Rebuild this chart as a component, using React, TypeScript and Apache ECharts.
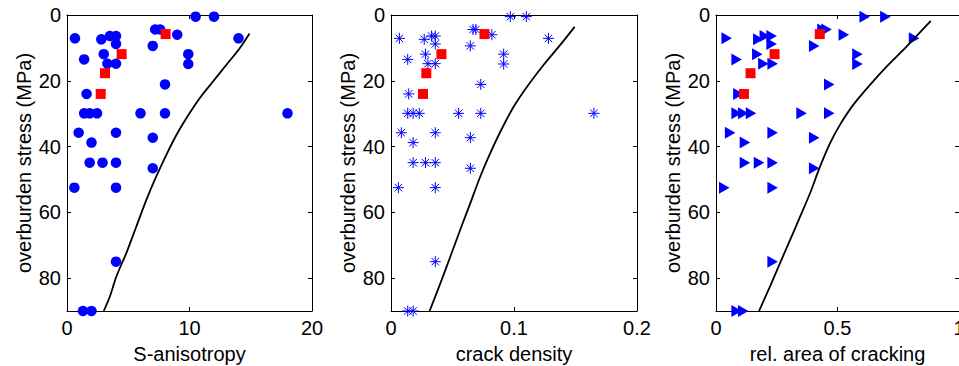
import React, { useEffect, useRef } from "react";
import * as echarts from "echarts";

// shared overburden stress values (MPa) for the blue samples
const stress = [0.5, 0.5, 7.1, 7.4, 6.4, 6.4, 8.8, 4.4, 4.4, 6.0, 9.4, 7.1, 13.5, 11.9, 14.8, 14.8, 11.9, 14.9, 21.1, 24.0, 29.9, 29.9, 29.9, 29.9, 29.9, 29.9, 35.8, 35.8, 37.3, 38.8, 44.9, 44.9, 44.9, 46.6, 52.5, 52.5, 75.0, 90, 90];
const sAnisotropy = [10.5, 12.0, 0.65, 2.8, 3.5, 4.0, 4.0, 7.2, 7.6, 9.0, 7.0, 14.0, 1.4, 3.0, 3.3, 4.0, 9.9, 9.9, 8.0, 1.6, 1.4, 1.85, 2.45, 6.0, 8.0, 18.0, 0.95, 4.0, 7.0, 2.0, 1.85, 2.9, 4.0, 7.0, 0.6, 4.0, 4.0, 1.3, 2.0];
const crackDensity = [0.097, 0.110, 0.0068, 0.027, 0.033, 0.036, 0.036, 0.0667, 0.069, 0.082, 0.0645, 0.128, 0.0136, 0.028, 0.030, 0.036, 0.0916, 0.0916, 0.073, 0.0144, 0.0136, 0.018, 0.023, 0.055, 0.073, 0.165, 0.0084, 0.036, 0.0645, 0.018, 0.018, 0.028, 0.036, 0.0645, 0.006, 0.036, 0.036, 0.0136, 0.018];
const relArea = [0.612, 0.697, 0.044, 0.174, 0.201, 0.229, 0.229, 0.438, 0.455, 0.526, 0.404, 0.815, 0.085, 0.170, 0.195, 0.233, 0.582, 0.582, 0.466, 0.092, 0.085, 0.112, 0.144, 0.352, 0.466, null, 0.058, 0.233, 0.404, 0.119, 0.119, 0.177, 0.233, 0.404, 0.034, 0.233, 0.233, 0.085, 0.112];

// red samples
const stressRed = [5.8, 11.9, 17.7, 24.0];
const sAnisotropyRed = [8.05, 4.46, 3.1, 2.75];
const crackDensityRed = [0.076, 0.041, 0.0287, 0.026];
const relAreaRed = [0.427, 0.241, 0.142, 0.115];

// model curves [x, stress]
const curveAniso = [[3.0, 90], [3.5, 85.6], [4.03, 79.5], [4.84, 72.4], [5.66, 64.3], [6.48, 56.2], [7.29, 49.1], [8.1, 42.6], [8.93, 36.5], [9.74, 31.4], [10.83, 25.3], [11.9, 20.3], [13.0, 15.2], [14.1, 10.1], [14.9, 5.6]];
const curveCrack = [[0.0314, 90], [0.0401, 81.6], [0.0482, 73.5], [0.0563, 65.3], [0.0645, 57.2], [0.0726, 49.1], [0.0807, 42.0], [0.0889, 35.5], [0.0997, 27.9], [0.1106, 21.8], [0.124, 15.2], [0.1376, 9.1], [0.1493, 3.6]];
const curveArea = [[0.177, 90], [0.222, 82.6], [0.263, 75.5], [0.305, 68.4], [0.346, 61.3], [0.387, 54.2], [0.428, 46.1], [0.469, 39.0], [0.51, 33.4], [0.564, 27.4], [0.633, 21.3], [0.702, 15.7], [0.784, 9.6], [0.884, 1.8]];

const xNames = ["S-anisotropy", "crack density", "rel. area of cracking"];
const xMax = [20, 0.2, 1];
const xInterval = [10, 0.1, 0.5];
const yTicksMax = 90;
const yInterval = 20;
const yName = "overburden stress (MPa)";

const FONT = "Liberation Sans, Arial, sans-serif";

const pairs = (xs: (number | null)[], ys: number[]) =>
  xs.map((x, i) => [x, ys[i]]).filter((p) => p[0] !== null);

export default function App() {
  const ref = useRef<HTMLDivElement>(null);
  useEffect(() => {
    if (!ref.current) return;
    const chart = echarts.init(ref.current, null, { renderer: "svg" });
    const grids = [
      { left: 67, top: 15, width: 245, height: 296 },
      { left: 391, top: 15, width: 246, height: 296 },
      { left: 716, top: 15, width: 243, height: 296 },
    ].map((g) => ({ ...g, outerBoundsMode: "none", containLabel: false }));

    const axisLine = { show: true, onZero: false, lineStyle: { color: "#000", width: 1 } };
    const axisTick = { show: true, inside: true, length: 4, lineStyle: { color: "#000", width: 1 } };
    const xAxes: any[] = [];
    const yAxes: any[] = [];
    for (let i = 0; i < 3; i++) {
      xAxes.push({
        gridIndex: i, type: "value", position: "bottom", min: 0, max: xMax[i], interval: xInterval[i],
        name: xNames[i], nameLocation: "middle", nameGap: 33,
        nameTextStyle: { fontSize: 20, color: "#000", fontFamily: FONT },
        axisLine, axisTick,
        axisLabel: { fontSize: 20, color: "#000", margin: 7, fontFamily: FONT, hideOverlap: false },
        splitLine: { show: false },
      });
      xAxes.push({
        gridIndex: i, type: "value", position: "top", min: 0, max: xMax[i], interval: xInterval[i],
        axisLine, axisTick, axisLabel: { show: false }, splitLine: { show: false },
      });
      yAxes.push({
        gridIndex: i, type: "value", position: "left", inverse: true, min: 0, max: yTicksMax, interval: yInterval,
        name: yName, nameLocation: "middle", nameGap: 33, nameRotate: 90,
        nameTextStyle: { fontSize: 20, color: "#000", fontFamily: FONT },
        axisLine, axisTick,
        axisLabel: {
          fontSize: 20, color: "#000", margin: 6, fontFamily: FONT,
          formatter: (v: number) => (v % yInterval === 0 ? String(v) : ""),
        },
        splitLine: { show: false },
      });
      yAxes.push({
        gridIndex: i, type: "value", position: "right", inverse: true, min: 0, max: yTicksMax, interval: yInterval,
        axisLine, axisTick, axisLabel: { show: false }, splitLine: { show: false },
      });
    }

    const blueX = [sAnisotropy, crackDensity, relArea];
    const redX = [sAnisotropyRed, crackDensityRed, relAreaRed];
    const curves = [curveAniso, curveCrack, curveArea];
    const blueStyles: any[] = [
      { symbol: "circle", symbolSize: 10.5, itemStyle: { color: "#0000ff", opacity: 1 } },
      {
        symbol: "path://M0,5L10,5M5,0L5,10M1.6,1.6L8.4,8.4M8.4,1.6L1.6,8.4",
        symbolSize: 11,
        itemStyle: { color: "none", borderColor: "#0000ff", borderWidth: 1, opacity: 1 },
      },
      { symbol: "triangle", symbolSize: [12, 10.5], symbolRotate: -90, itemStyle: { color: "#0000ff", opacity: 1 } },
    ];
    const series: any[] = [];
    for (let i = 0; i < 3; i++) {
      series.push({
        type: "scatter", xAxisIndex: i * 2, yAxisIndex: i * 2, clip: false,
        data: pairs(blueX[i], stress), ...blueStyles[i],
      });
      series.push({
        type: "scatter", xAxisIndex: i * 2, yAxisIndex: i * 2, clip: false,
        data: pairs(redX[i], stressRed), symbol: "rect", symbolSize: 10,
        itemStyle: { color: "#ff0000", opacity: 1 },
      });
      series.push({
        type: "line", xAxisIndex: i * 2, yAxisIndex: i * 2, data: curves[i], smooth: 0.3,
        showSymbol: false, symbol: "none", lineStyle: { color: "#000", width: 1.8 },
      });
    }

    chart.setOption({
      animation: false,
      backgroundColor: "#fff",
      grid: grids,
      xAxis: xAxes,
      yAxis: yAxes,
      series,
    });
    return () => chart.dispose();
  }, []);
  return (
    <div
      ref={ref}
      style={{ position: "absolute", left: 0, top: 0, width: 959, height: 366, background: "#fff" }}
    />
  );
}
